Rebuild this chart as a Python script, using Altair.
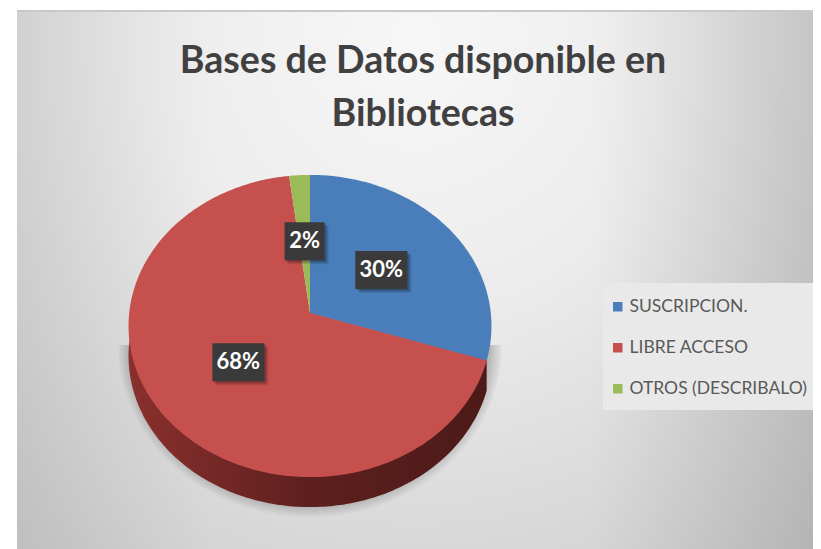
import math
import altair as alt
import pandas as pd

TITLE_LINES = ["Bases de Datos disponible en", "Bibliotecas"]
CATEGORIES = ["SUSCRIPCION.", "LIBRE ACCESO", "OTROS (DESCRIBALO)"]
SHARES = [30, 68, 2]
COLORS = ["#4a7ebb", "#c6504e", "#9bbb59"]

W, H = 805, 541
CX, CY = 302, 305      # apex of the tilted pie
K, A, C = 0.086, 150.0, 180.8
DEPTH = 30


def project(deg, r=1.0):
    t = math.radians(deg)
    X, Y = math.sin(t) * r, math.cos(t) * r
    w = 1 + K * Y
    return CX + C * X / w, CY - A * Y / w


rows, labels, cum = [], [], 0.0
for cat, s in zip(CATEGORIES, SHARES):
    a0, a1 = cum * 3.6, (cum + s) * 3.6
    x, y = project(a0, 0)
    rows.append(dict(cat=cat, i=0, x=x, y=y))
    n = max(4, int(a1 - a0))
    for j in range(n + 1):
        x, y = project(a0 + (a1 - a0) * j / n)
        rows.append(dict(cat=cat, i=j + 1, x=x, y=y))
    lx, ly = project((a0 + a1) / 2, 0.5)
    labels.append(dict(text=f"{s}%", x=lx, y=ly, hw=26 if s >= 10 else 20, hh=19))
    cum += s
top = pd.DataFrame(rows)
lab = pd.DataFrame(labels)
for col, fn in (("x0", lambda d: d.x - d.hw), ("x1", lambda d: d.x + d.hw),
                ("y0", lambda d: d.y - d.hh), ("y1", lambda d: d.y + d.hh)):
    lab[col] = fn(lab)
sh_frames = []
for off in (1, 2, 3, 4):
    f = lab.copy()
    for col in ("x0", "x1", "y0", "y1"):
        f[col] = f[col] + off
    f["off"] = off
    sh_frames.append(f)
sh = pd.concat(sh_frames)

# side wall of the pie: from the end of the blue slice round to the left edge
side_rows = [dict(i=0, x=project(SHARES[0] * 3.6)[0], y=project(SHARES[0] * 3.6)[1])]
for j, d in enumerate(range(SHARES[0] * 36 // 10, 285)):
    x, y = project(d)
    side_rows.append(dict(i=j + 1, x=x, y=y + DEPTH))
x, y = project(284)
side_rows.append(dict(i=1000, x=x, y=y))
side_rows.append(dict(i=1001, x=CX, y=CY))
side = pd.DataFrame(side_rows)

# soft drop shadow: stacked translucent half ellipses
sh_rows = []
for k in range(7):
    for d in range(90, 271, 3):
        t = math.radians(d)
        sh_rows.append(dict(ring=k, i=d,
                            x=CX + (180 + 2 * k) * math.sin(t),
                            y=337 - (160 + 2 * k) * math.cos(t)))
shadow = pd.DataFrame(sh_rows)

sx = alt.Scale(domain=[0, W], range=[0, W], nice=False, zero=False)
sy = alt.Scale(domain=[0, H], range=[0, H], nice=False, zero=False)
X = lambda f="x": alt.X(f"{f}:Q", scale=sx, axis=None)
Y = lambda f="y": alt.Y(f"{f}:Q", scale=sy, axis=None)
one = pd.DataFrame({"a": [0]})

bg = alt.Chart(one).mark_rect(
    fill=alt.RadialGradient(
        gradient="radial", x1=0.5, y1=0.2, r1=0.0, x2=0.5, y2=0.2, r2=0.95,
        stops=[alt.GradientStop(offset=0, color="#f7f7f7"),
               alt.GradientStop(offset=0.35, color="#ececec"),
               alt.GradientStop(offset=0.8, color="#d0d0d0"),
               alt.GradientStop(offset=1, color="#c6c6c6")])
).encode(x=alt.value(9), x2=alt.value(W), y=alt.value(2), y2=alt.value(H))

bg_edges = alt.Chart(one).mark_rect(
    fill=alt.LinearGradient(
        gradient="linear", x1=0, y1=0, x2=1, y2=0,
        stops=[alt.GradientStop(offset=0, color="rgba(0,0,0,0.07)"),
               alt.GradientStop(offset=0.25, color="rgba(0,0,0,0)"),
               alt.GradientStop(offset=0.72, color="rgba(0,0,0,0)"),
               alt.GradientStop(offset=1, color="rgba(0,0,0,0.12)")])
).encode(x=alt.value(9), x2=alt.value(W), y=alt.value(2), y2=alt.value(H))

top_edge = alt.Chart(one).mark_rect(color="#c8c8c8").encode(
    x=alt.value(9), x2=alt.value(W), y=alt.value(2), y2=alt.value(4))

legend_panel = alt.Chart(one).mark_rect(color="#e9e9e9").encode(
    x=alt.value(595), x2=alt.value(W), y=alt.value(275), y2=alt.value(402))

shadow_l = alt.Chart(shadow).mark_line(fill="#000000", fillOpacity=0.03, strokeOpacity=0).encode(
    x=X(), y=Y(), detail="ring:N", order="i:Q")

side_l = alt.Chart(side).mark_line(
    strokeOpacity=0,
    fill=alt.LinearGradient(
        gradient="linear", x1=0, y1=0, x2=1, y2=0,
        stops=[alt.GradientStop(offset=0, color="#8a302e"),
               alt.GradientStop(offset=0.5, color="#5e201e"),
               alt.GradientStop(offset=1, color="#4c1a18")])
).encode(x=X(), y=Y(), order="i:Q")

slices = alt.Chart(top).mark_line(strokeOpacity=0).encode(
    x=X(), y=Y(), order="i:Q",
    fill=alt.Fill("cat:N",
                  scale=alt.Scale(domain=CATEGORIES, range=COLORS),
                  sort=CATEGORIES,
                  legend=alt.Legend(
                      title=None, orient="none", legendX=601, legendY=290,
                      symbolType="square", symbolSize=90, symbolStrokeWidth=0,
                      labelFont="Lato", labelFontSize=17.5, labelColor="#595959",
                      labelLimit=300, labelOffset=3, rowPadding=22, padding=0,
                      symbolOpacity=1)),
)

box_sh = alt.Chart(sh).mark_rect(color="#000000", opacity=0.1).encode(
    x=X("x0"), x2="x1:Q", y=Y("y0"), y2="y1:Q", detail="off:N")
box = alt.Chart(lab).mark_rect(color="#3a3a3a").encode(
    x=X("x0"), x2="x1:Q", y=Y("y0"), y2="y1:Q")
txt = alt.Chart(lab).mark_text(
    font="Lato", fontWeight="bold", fontSize=22, color="#ffffff", align="center", baseline="middle"
).encode(x=X(), y=Y(), text="text:N")

title_df = pd.DataFrame({"t": TITLE_LINES, "x": [415, 415], "y": [54, 107]})
title = alt.Chart(title_df).mark_text(
    font="Lato", fontWeight="bold", fontSize=37.6, color="#404040", align="center", baseline="middle"
).encode(x=X(), y=Y(), text="t:N")

chart = alt.layer(
    bg, bg_edges, top_edge, legend_panel, title, shadow_l, side_l, slices, box_sh, box, txt
).properties(width=W, height=H, padding=0, autosize=alt.AutoSizeParams(type="none"),
             background="#ffffff").configure_view(stroke=None)

chart.save("out.html", embed_options={"renderer": "svg", "actions": False})
